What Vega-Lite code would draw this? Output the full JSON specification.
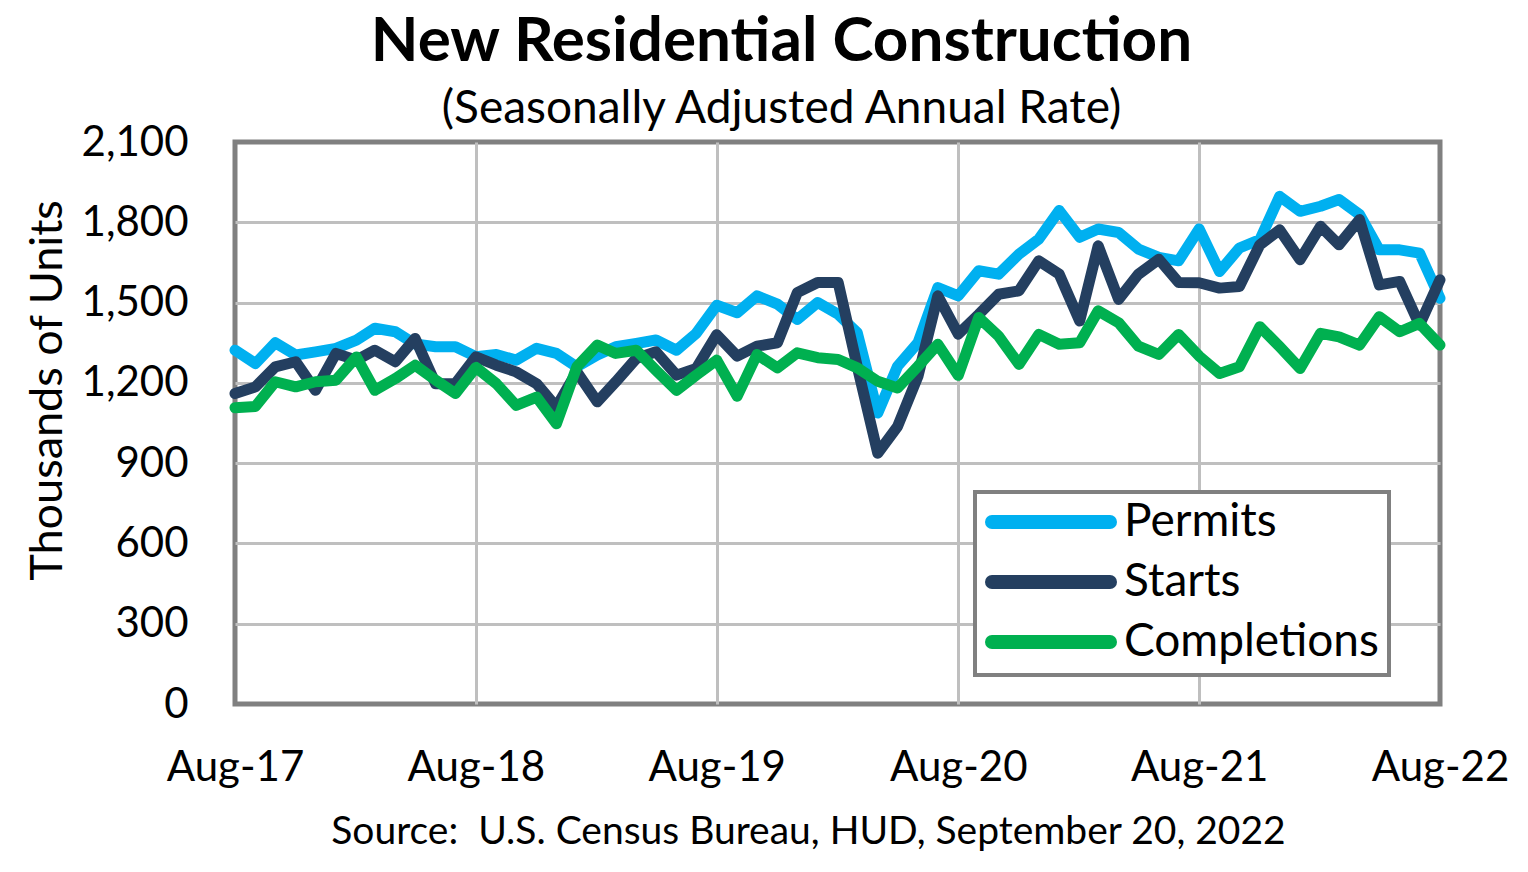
{
  "$schema": "https://vega.github.io/schema/vega-lite/v6.json",
  "width": 1205,
  "height": 562,
  "autosize": "none",
  "padding": {"left": 235, "top": 142, "right": 88, "bottom": 168},
  "background": "white",
  "config": {
    "font": "Lato",
    "view": {"stroke": "#808080", "strokeWidth": 5}
  },
  "title": {
    "text": "New Residential Construction",
    "subtitle": "(Seasonally Adjusted Annual Rate)",
    "font": "Lato",
    "fontSize": 62,
    "fontWeight": "bold",
    "color": "black",
    "subtitleFont": "Lato",
    "subtitleFontSize": 46,
    "subtitleColor": "black",
    "subtitlePadding": 13,
    "anchor": "middle",
    "dx": -56,
    "offset": -12
  },
  "data": {
    "format": {"parse": {"date": "date:'%Y-%m'"}},
    "values": [
      {"date": "2017-08", "Permits": 1322, "Starts": 1160, "Completions": 1107},
      {"date": "2017-09", "Permits": 1272, "Starts": 1185, "Completions": 1112},
      {"date": "2017-10", "Permits": 1350, "Starts": 1260, "Completions": 1204},
      {"date": "2017-11", "Permits": 1304, "Starts": 1279, "Completions": 1185},
      {"date": "2017-12", "Permits": 1316, "Starts": 1172, "Completions": 1204},
      {"date": "2018-01", "Permits": 1329, "Starts": 1310, "Completions": 1210},
      {"date": "2018-02", "Permits": 1360, "Starts": 1285, "Completions": 1297},
      {"date": "2018-03", "Permits": 1404, "Starts": 1322, "Completions": 1172},
      {"date": "2018-04", "Permits": 1391, "Starts": 1279, "Completions": 1216},
      {"date": "2018-05", "Permits": 1345, "Starts": 1366, "Completions": 1266},
      {"date": "2018-06", "Permits": 1335, "Starts": 1197, "Completions": 1210},
      {"date": "2018-07", "Permits": 1335, "Starts": 1197, "Completions": 1160},
      {"date": "2018-08", "Permits": 1298, "Starts": 1297, "Completions": 1258},
      {"date": "2018-09", "Permits": 1306, "Starts": 1266, "Completions": 1197},
      {"date": "2018-10", "Permits": 1285, "Starts": 1241, "Completions": 1116},
      {"date": "2018-11", "Permits": 1329, "Starts": 1197, "Completions": 1147},
      {"date": "2018-12", "Permits": 1310, "Starts": 1110, "Completions": 1047},
      {"date": "2019-01", "Permits": 1260, "Starts": 1241, "Completions": 1260},
      {"date": "2019-02", "Permits": 1304, "Starts": 1129, "Completions": 1341},
      {"date": "2019-03", "Permits": 1335, "Starts": 1204, "Completions": 1310},
      {"date": "2019-04", "Permits": 1347, "Starts": 1291, "Completions": 1322},
      {"date": "2019-05", "Permits": 1360, "Starts": 1316, "Completions": 1247},
      {"date": "2019-06", "Permits": 1322, "Starts": 1229, "Completions": 1172},
      {"date": "2019-07", "Permits": 1385, "Starts": 1254, "Completions": 1229},
      {"date": "2019-08", "Permits": 1490, "Starts": 1380, "Completions": 1285},
      {"date": "2019-09", "Permits": 1462, "Starts": 1300, "Completions": 1150},
      {"date": "2019-10", "Permits": 1525, "Starts": 1337, "Completions": 1306},
      {"date": "2019-11", "Permits": 1494, "Starts": 1350, "Completions": 1256},
      {"date": "2019-12", "Permits": 1437, "Starts": 1537, "Completions": 1312},
      {"date": "2020-01", "Permits": 1500, "Starts": 1575, "Completions": 1294},
      {"date": "2020-02", "Permits": 1456, "Starts": 1575, "Completions": 1287},
      {"date": "2020-03", "Permits": 1387, "Starts": 1260, "Completions": 1256},
      {"date": "2020-04", "Permits": 1087, "Starts": 937, "Completions": 1206},
      {"date": "2020-05", "Permits": 1262, "Starts": 1037, "Completions": 1181},
      {"date": "2020-06", "Permits": 1350, "Starts": 1225, "Completions": 1262},
      {"date": "2020-07", "Permits": 1556, "Starts": 1525, "Completions": 1344},
      {"date": "2020-08", "Permits": 1525, "Starts": 1382, "Completions": 1228},
      {"date": "2020-09", "Permits": 1619, "Starts": 1456, "Completions": 1444},
      {"date": "2020-10", "Permits": 1606, "Starts": 1531, "Completions": 1375},
      {"date": "2020-11", "Permits": 1681, "Starts": 1544, "Completions": 1269},
      {"date": "2020-12", "Permits": 1737, "Starts": 1656, "Completions": 1381},
      {"date": "2021-01", "Permits": 1844, "Starts": 1606, "Completions": 1344},
      {"date": "2021-02", "Permits": 1744, "Starts": 1431, "Completions": 1350},
      {"date": "2021-03", "Permits": 1775, "Starts": 1712, "Completions": 1469},
      {"date": "2021-04", "Permits": 1762, "Starts": 1512, "Completions": 1425},
      {"date": "2021-05", "Permits": 1700, "Starts": 1606, "Completions": 1337},
      {"date": "2021-06", "Permits": 1669, "Starts": 1662, "Completions": 1306},
      {"date": "2021-07", "Permits": 1656, "Starts": 1575, "Completions": 1381},
      {"date": "2021-08", "Permits": 1775, "Starts": 1574, "Completions": 1300},
      {"date": "2021-09", "Permits": 1616, "Starts": 1554, "Completions": 1235},
      {"date": "2021-10", "Permits": 1704, "Starts": 1560, "Completions": 1260},
      {"date": "2021-11", "Permits": 1735, "Starts": 1716, "Completions": 1410},
      {"date": "2021-12", "Permits": 1897, "Starts": 1772, "Completions": 1335},
      {"date": "2022-01", "Permits": 1841, "Starts": 1660, "Completions": 1254},
      {"date": "2022-02", "Permits": 1860, "Starts": 1785, "Completions": 1385},
      {"date": "2022-03", "Permits": 1885, "Starts": 1716, "Completions": 1372},
      {"date": "2022-04", "Permits": 1829, "Starts": 1810, "Completions": 1341},
      {"date": "2022-05", "Permits": 1697, "Starts": 1566, "Completions": 1447},
      {"date": "2022-06", "Permits": 1697, "Starts": 1579, "Completions": 1391},
      {"date": "2022-07", "Permits": 1685, "Starts": 1416, "Completions": 1422},
      {"date": "2022-08", "Permits": 1516, "Starts": 1585, "Completions": 1341}
    ]
  },
  "transform": [
    {"fold": ["Permits", "Starts", "Completions"], "as": ["series", "value"]}
  ],
  "mark": {"type": "line", "strokeWidth": 11, "strokeJoin": "round", "strokeCap": "round"},
  "encoding": {
    "x": {
      "field": "date",
      "type": "temporal",
      "scale": {"domain": [{"year": 2017, "month": 8, "date": 1}, {"year": 2022, "month": 8, "date": 1}]},
      "axis": {
        "values": [
          {"year": 2017, "month": 8, "date": 1},
          {"year": 2018, "month": 8, "date": 1},
          {"year": 2019, "month": 8, "date": 1},
          {"year": 2020, "month": 8, "date": 1},
          {"year": 2021, "month": 8, "date": 1},
          {"year": 2022, "month": 8, "date": 1}
        ],
        "format": "%b-%y",
        "labelFont": "Lato",
        "labelFontSize": 42,
        "labelColor": "black",
        "labelPadding": 43,
        "labelFlush": false,
        "labelOverlap": false,
        "ticks": false,
        "domain": false,
        "grid": true,
        "gridColor": "#bfbfbf",
        "gridWidth": 3,
        "gridOpacity": {"condition": {"test": "year(datum.value) == 2017 || year(datum.value) == 2022", "value": 0}, "value": 1},
        "title": "Source:\u00a0 U.S. Census Bureau, HUD, September 20, 2022",
        "titleFont": "Lato",
        "titleFontSize": 39,
        "titleFontWeight": "normal",
        "titleColor": "black",
        "titleX": 573,
        "titleY": 139,
        "titleAlign": "center",
        "titleBaseline": "alphabetic"
      }
    },
    "y": {
      "field": "value",
      "type": "quantitative",
      "scale": {"domain": [0, 2100], "nice": false},
      "axis": {
        "values": [0, 300, 600, 900, 1200, 1500, 1800, 2100],
        "format": ",d",
        "labelFont": "Lato",
        "labelFontSize": 42,
        "labelColor": "black",
        "labelPadding": 47,
        "ticks": false,
        "domain": false,
        "grid": true,
        "gridColor": "#bfbfbf",
        "gridWidth": 3,
        "gridOpacity": {"condition": {"test": "datum.value == 0 || datum.value == 2100", "value": 0}, "value": 1},
        "title": "Thousands of Units",
        "titleFont": "Lato",
        "titleFontSize": 45,
        "titleFontWeight": "normal",
        "titleColor": "black",
        "titleAngle": 270,
        "titleX": -174,
        "titleY": 248,
        "titleAlign": "center",
        "titleBaseline": "alphabetic"
      }
    },
    "color": {
      "field": "series",
      "type": "nominal",
      "scale": {"domain": ["Permits", "Starts", "Completions"], "range": ["#00B0F0", "#243F60", "#00B050"]},
      "legend": {
        "orient": "none",
        "legendX": 740,
        "legendY": 350,
        "title": null,
        "symbolType": "stroke",
        "symbolSize": 13924,
        "symbolStrokeWidth": 14,
        "clipHeight": 40,
        "rowPadding": 14,
        "padding": 10,
        "labelFont": "Lato",
        "labelFontSize": 46,
        "labelColor": "black",
        "labelOffset": 7,
        "labelLimit": 0,
        "fillColor": "white",
        "strokeColor": "#808080",
        "encode": {
          "legend": {"update": {"strokeWidth": {"value": 4}}},
          "symbols": {"update": {"strokeCap": {"value": "round"}}}
        }
      }
    }
  }
}
